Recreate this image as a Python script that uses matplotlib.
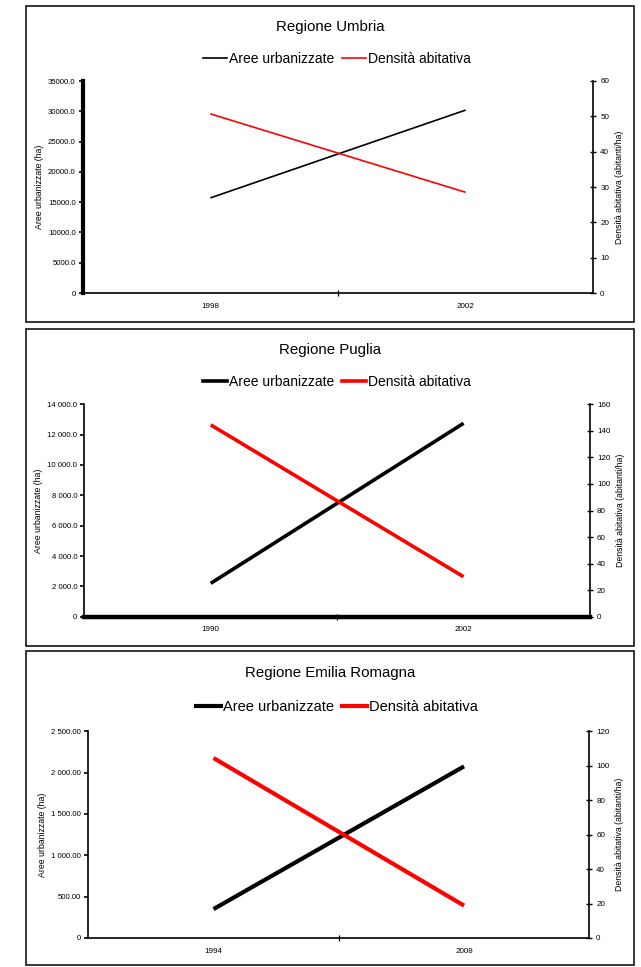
import matplotlib
matplotlib.use("Agg")
import matplotlib.pyplot as plt
from matplotlib.patches import Rectangle
from matplotlib.lines import Line2D

plt.rcParams['font.family'] = ['Liberation Sans', 'DejaVu Sans']

W, H = 641, 967

# ---- data ----
titles = ["Regione Umbria", "Regione Puglia", "Regione Emilia Romagna"]
years = [["1998", "2002"], ["1990", "2002"], ["1994", "2008"]]
aree = [[15700, 30200], [2200, 12750], [350, 2076]]
densita = [[50.7, 28.5], [144.5, 30.1], [104.5, 18.8]]
left_ticks = [[0, 5000, 10000, 15000, 20000, 25000, 30000, 35000],
              [0, 2000, 4000, 6000, 8000, 10000, 12000, 14000],
              [0, 500, 1000, 1500, 2000, 2500]]
left_labels = [["0", "5000.0", "10000.0", "15000.0", "20000.0", "25000.0", "30000.0", "35000.0"],
               ["0", "2 000.0", "4 000.0", "6 000.0", "8 000.0", "10 000.0", "12 000.0", "14 000.0"],
               ["0", "500.00", "1 000.00", "1 500.00", "2 000.00", "2 500.00"]]
right_ticks = [[0, 10, 20, 30, 40, 50, 60],
               [0, 20, 40, 60, 80, 100, 120, 140, 160],
               [0, 20, 40, 60, 80, 100, 120]]
series_names = ["Aree urbanizzate", "Densità abitativa"]
ylabel_left = "Aree urbanizzate (ha)"
ylabel_right = "Densità abitativa (abitanti/ha)"

# ---- layout (pixels) ----
panels = [(26, 6, 634, 322), (26, 329, 634, 646), (26, 651, 634, 965)]
axes_px = [(82.7, 81, 593.3, 293), (84.3, 404.3, 590, 616.7), (88.3, 731.3, 589.3, 938)]
title_y = [27, 350, 673]
legend_y = [59, 382, 707]
legend_x = [337, 337, 337]
legend_fs = [10, 10, 10.5]
line_w = [1.2, 2.6, 3.0]
left_spine_w = [3.0, 1.2, 1.2]
bottom_spine_w = [1.2, 3.2, 1.2]

fig = plt.figure(figsize=(W / 100, H / 100), dpi=100)
fig.patch.set_facecolor("white")


def frac_rect(l, t, r, b):
    return [l / W, 1 - b / H, (r - l) / W, (b - t) / H]


for i in range(3):
    l, t, r, b = panels[i]
    fig.patches.append(Rectangle((l / W, 1 - b / H), (r - l) / W, (b - t) / H,
                                 transform=fig.transFigure, fill=False,
                                 edgecolor="black", linewidth=1.1))

    ax = fig.add_axes(frac_rect(*axes_px[i]))
    x = [0, 1]
    ax.plot(x, aree[i], color="black", linewidth=line_w[i], solid_capstyle="butt")
    ax.set_xlim(-0.5, 1.5)
    ax.set_ylim(left_ticks[i][0], left_ticks[i][-1])
    ax.set_yticks(left_ticks[i])
    ax.set_yticklabels(left_labels[i], fontsize=5.6)
    ax.set_xticks([0, 1])
    ax.set_xticklabels(years[i], fontsize=5.8)
    ax.set_xticks([0.5], minor=True)
    ax.tick_params(axis="x", which="major", length=0, pad=7)
    ax.tick_params(axis="x", which="minor", length=4, direction="inout", width=0.9)
    ax.tick_params(axis="y", length=3, width=1.2, direction="out", pad=2)
    ax.spines["top"].set_visible(False)
    ax.spines["right"].set_visible(False)
    ax.spines["left"].set_linewidth(left_spine_w[i])
    ax.spines["bottom"].set_linewidth(bottom_spine_w[i])
    ax.set_ylabel(ylabel_left, fontsize=6.3, labelpad=3)

    ax2 = ax.twinx()
    ax2.plot(x, densita[i], color="red", linewidth=line_w[i], solid_capstyle="butt")
    ax2.set_ylim(right_ticks[i][0], right_ticks[i][-1])
    ax2.set_yticks(right_ticks[i])
    ax2.set_yticklabels([str(v) for v in right_ticks[i]], fontsize=5.8)
    ax2.tick_params(axis="y", length=4, width=1.0, direction="inout", pad=3)
    for s in ["top", "left", "bottom"]:
        ax2.spines[s].set_visible(False)
    ax2.spines["right"].set_linewidth(1.2)
    ax2.set_ylabel(ylabel_right, fontsize=6.3, labelpad=4)

    fig.text(330 / W, 1 - title_y[i] / H, titles[i], ha="center", va="center", fontsize=10.8)

    handles = [Line2D([0], [0], color="black", linewidth=line_w[i]),
               Line2D([0], [0], color="red", linewidth=line_w[i])]
    fig.legend(handles, series_names, loc="center",
               bbox_to_anchor=(legend_x[i] / W, 1 - legend_y[i] / H),
               ncol=2, frameon=False, fontsize=legend_fs[i], handlelength=1.7,
               handletextpad=0.15, columnspacing=0.6, borderaxespad=0, borderpad=0)

fig.savefig("out.png", dpi=100, facecolor="white")
